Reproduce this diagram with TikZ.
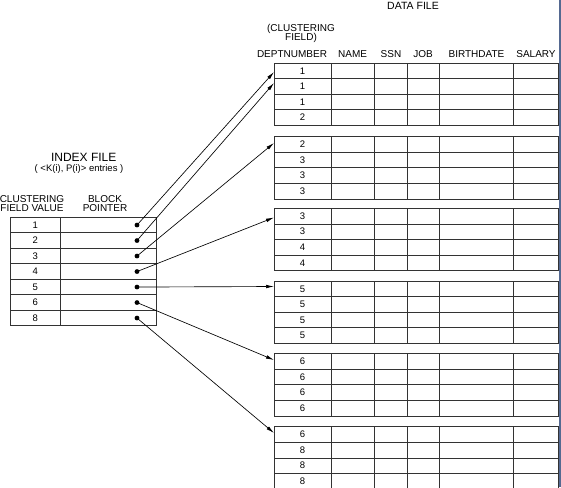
\documentclass[tikz,border=0pt]{standalone}
\usepackage{fontspec}
\setmainfont{Liberation Sans}
\usetikzlibrary{arrows.meta}
\definecolor{edgeblue}{RGB}{85,105,145}
\begin{document}
\begin{tikzpicture}[x=1pt,y=-1pt,
  grid/.style={draw=black!80, line width=0.75pt},
  cell/.style={font=\fontsize{9.5}{9.5}\selectfont, inner sep=0pt},
  head/.style={font=\fontsize{10}{9.4}\selectfont, inner sep=0pt, align=center},
  ptr/.style={-{Latex[length=8pt,width=3.6pt]}, line width=0.65pt},
  dotmark/.style={circle, fill=black, inner sep=0pt, minimum size=4.8pt}]
\useasboundingbox (0,0) rectangle (561,487);
\clip (0,0) rectangle (561,487);

% ---------- index file ----------
\node[font=\fontsize{12}{12}\selectfont, inner sep=0pt, anchor=base] (idxtitle) at (83.7,161) {INDEX FILE};
\node[font=\fontsize{9.5}{9.5}\selectfont, inner sep=0pt, anchor=base] (idxsub) at (79,171) {( <K(i), P(i)> entries )};
\node[head] (idxkey) at (32,203.7) {CLUSTERING\\FIELD VALUE};
\node[head] (idxptr) at (105,203.7) {BLOCK\\POINTER};

\draw[grid] (10,217.3) rectangle (156.7,325.8);
\draw[grid] (60.7,217.3) -- (60.7,325.8);
\foreach \i in {1,...,6}
  \draw[grid] (10,217.3+15.5*\i) -- (156.7,217.3+15.5*\i);
\foreach \v [count=\i] in {1,2,3,4,5,6,8} {
  \node[cell] (k\i) at (35.3,225.05+15.5*\i-15.5) {\v};
  \node[dotmark] (d\i) at (137,225.05+15.5*\i-15.5) {};
}

% ---------- data file ----------
\node[font=\fontsize{10.5}{10.5}\selectfont, inner sep=0pt] (datatitle) at (413,6) {DATA FILE};
\node[head] (clustnote) at (301,33.5) {(CLUSTERING\\FIELD)};
\node[head] (hdept)  at (292,54) {DEPTNUMBER};
\node[head] (hname)  at (352.6,54) {NAME};
\node[head] (hssn)   at (391,54) {SSN};
\node[head] (hjob)   at (423,54) {JOB};
\node[head] (hbirth) at (476.5,54) {BIRTHDATE};
\node[head] (hsal)   at (536,54) {SALARY};

\foreach \t/\vals [count=\b] in {63/{1,1,1,2}, 136.5/{2,3,3,3}, 208.3/{3,3,4,4},
                                  281/{5,5,5,5}, 353.5/{6,6,6,6}, 426.7/{6,8,8,8}} {
  \draw[grid] (274,\t) rectangle (558.5,\t+62.4);
  \foreach \cx in {331,374.3,407.3,439.3,513.7}
    \draw[grid] (\cx,\t) -- (\cx,\t+62.4);
  \foreach \r in {1,2,3}
    \draw[grid] (274,\t+15.6*\r) -- (558.5,\t+15.6*\r);
  \foreach \v [count=\r] in \vals
    \node[cell] (b\b r\r) at (302.5,\t+7.8+15.6*\r-15.6) {\v};
}

% block pointer targets on the left edge of the blocks
\coordinate (t1) at (274,72);
\coordinate (t2) at (274,83);
\coordinate (t3) at (274,143);
\coordinate (t4) at (274,217.5);
\coordinate (t5) at (274,286.5);
\coordinate (t6) at (274,360);
\coordinate (t7) at (274,433);

\foreach \i in {1,...,7}
  \draw[ptr] (d\i.center) -- (t\i);

% window edge
\fill[edgeblue] (558.6,0) rectangle (561,487);
\end{tikzpicture}
\end{document}
